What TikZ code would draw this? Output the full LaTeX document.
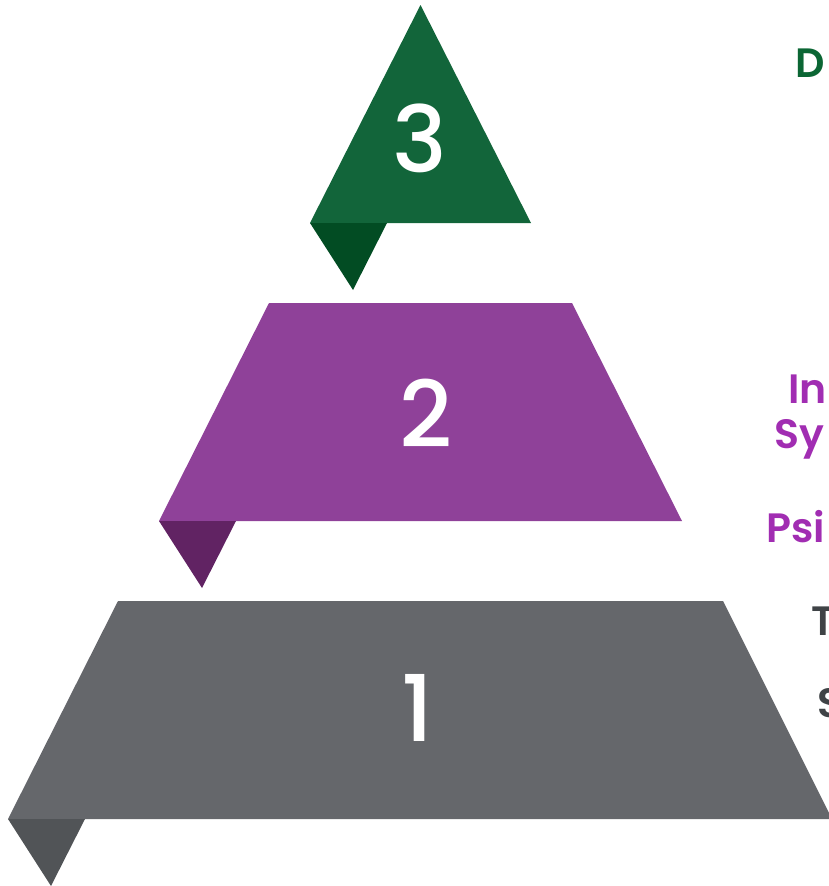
\documentclass[tikz,border=0pt]{standalone}
\usepackage{fontspec}
\setmainfont{Poppins}
\newfontfamily\semib{Poppins}[UprightFont=* SemiBold]
\newfontfamily\medf{Poppins}[UprightFont=* Medium]
\definecolor{gmain}{HTML}{12653A}
\definecolor{gdark}{HTML}{024C23}
\definecolor{pmain}{HTML}{8F4199}
\definecolor{pdark}{HTML}{612363}
\definecolor{kmain}{HTML}{65676B}
\definecolor{kdark}{HTML}{515457}
\definecolor{gtext}{HTML}{0B6634}
\definecolor{ptext}{HTML}{A12DB2}
\definecolor{ktext}{HTML}{3F4346}
\begin{document}
\begin{tikzpicture}[x=1pt,y=-1pt,
  digit/.style={text=white,font=\medf\fontsize{92}{92}\selectfont,inner sep=0pt,anchor=base},
  lbl/.style={font=\semib\fontsize{41}{44}\selectfont,inner sep=0pt,anchor=base west}]
\useasboundingbox (0,0) rectangle (828,886);
% tier 3
\fill[gmain] (420.5,5) -- (531,223) -- (310,223) -- cycle;
\fill[gdark] (310,223) -- (387,223) -- (353,290) -- cycle;
% tier 2
\fill[pmain] (269,303) -- (572,303) -- (682,521) -- (159,521) -- cycle;
\fill[pdark] (159,521) -- (236,521) -- (202,588) -- cycle;
% tier 1
\fill[kmain] (118,601) -- (723,601) -- (832,819) -- (8,819) -- cycle;
\fill[kdark] (8,819) -- (85,819) -- (51,886) -- cycle;
% digits
\node[digit] (d3) at (420,172) {3};
\node[digit] (d2) at (426,447) {2};
\node[digit] (d1) at (418,741) {1};
% labels
\node[lbl,text=gtext] (l3) at (795,77) {D};
\node[lbl,text=ptext] (l2a) at (788,403) {In};
\node[lbl,text=ptext] (l2b) at (774,448) {Sy};
\node[lbl,text=ptext] (l2c) at (766,542) {Psi};
\node[lbl,text=ktext] (l1a) at (811,635) {T};
\node[lbl,text=ktext] (l1b) at (817,717) {S};
\end{tikzpicture}
\end{document}
